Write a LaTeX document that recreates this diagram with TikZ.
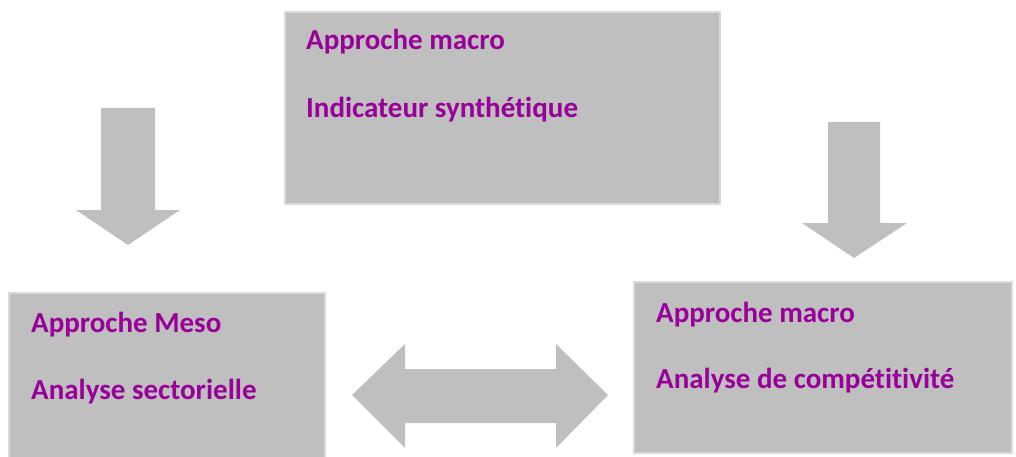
\documentclass[tikz,border=0pt]{standalone}
\usepackage{fontspec}
\setmainfont[Ligatures={NoCommon,NoDiscretionary}]{Carlito}
\definecolor{boxgray}{RGB}{191,191,191}
\definecolor{edgegray}{RGB}{218,218,218}
\definecolor{txtpurple}{RGB}{153,0,153}
\begin{document}
\begin{tikzpicture}[x=1pt,y=-1pt,
  box/.style={fill=boxgray,draw=edgegray,line width=1.5pt},
  blockarrow/.style={fill=boxgray,draw=none},
  lbl/.style={anchor=base west,inner sep=0pt,text=txtpurple,font=\fontsize{29}{33}\selectfont\bfseries}]
\useasboundingbox (0,0) rectangle (1016,457);
\clip (0,0) rectangle (1016,457);
% boxes
\draw[box] (285,12) rectangle (720,204);
\draw[box] (9,293) rectangle (325,460);
\draw[box] (634,282) rectangle (1012,453);
% texts
\node[lbl] (t1) at (306,50) {Approche macro};
\node[lbl] (t2) at (306,118) {Indicateur synthétique};
\node[lbl] (l1) at (31,332) {Approche Meso};
\node[lbl] (l2) at (31,399) {Analyse sectorielle};
\node[lbl] (r1) at (656,322) {Approche macro};
\node[lbl] (r2) at (656,388) {Analyse de compétitivité};
% down arrows
\fill[blockarrow] (101,108) -- (155,108) -- (155,210) -- (180,210) -- (128,245) -- (76,210) -- (101,210) -- cycle;
\fill[blockarrow] (828,122) -- (880,122) -- (880,223) -- (907,223) -- (854,258) -- (802,223) -- (828,223) -- cycle;
% double arrow
\fill[blockarrow] (352,395) -- (405,344) -- (405,369) -- (556,369) -- (556,344) -- (608,395) -- (556,448) -- (556,423) -- (405,423) -- (405,448) -- cycle;
\end{tikzpicture}
\end{document}
